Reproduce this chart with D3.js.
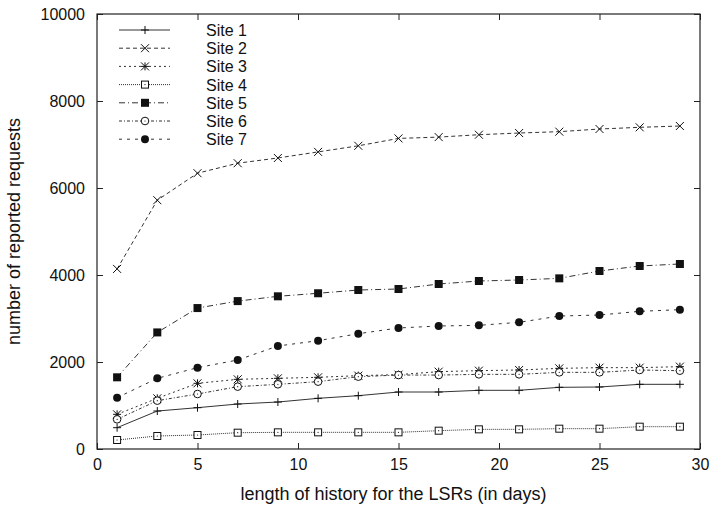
<!DOCTYPE html>
<html>
<head>
<meta charset="utf-8">
<script src="https://cdn.jsdelivr.net/npm/d3@7"></script>
<style>
  body { margin: 0; background: #fff; }
  text { font-family: "Liberation Sans", Arial, sans-serif; fill: #111; }
</style>
</head>
<body>
<svg id="chart" width="714" height="506"></svg>
<script>
// history length in days
const days = [1, 3, 5, 7, 9, 11, 13, 15, 17, 19, 21, 23, 25, 27, 29];

const site1 = [490, 873, 950, 1034, 1080, 1165, 1226, 1310, 1310, 1349, 1349, 1418, 1425, 1487, 1487];
const site2 = [4140, 5720, 6340, 6570, 6690, 6830, 6970, 7140, 7170, 7225, 7264, 7295, 7356, 7395, 7425];
const site3 = [797, 1165, 1510, 1602, 1625, 1648, 1686, 1709, 1778, 1801, 1816, 1854, 1870, 1870, 1893];
const site4 = [207, 299, 322, 375, 383, 383, 383, 383, 421, 452, 452, 467, 467, 513, 513];
const site5 = [1648, 2680, 3240, 3400, 3510, 3580, 3655, 3678, 3793, 3862, 3885, 3923, 4092, 4207, 4253];
const site6 = [682, 1111, 1264, 1433, 1487, 1548, 1663, 1700, 1700, 1716, 1716, 1762, 1762, 1816, 1800];
const site7 = [1180, 1625, 1870, 2046, 2368, 2490, 2651, 2782, 2828, 2843, 2912, 3057, 3080, 3165, 3203];

const siteNames = ["Site 1", "Site 2", "Site 3", "Site 4", "Site 5", "Site 6", "Site 7"];
const xTicks = [0, 5, 10, 15, 20, 25, 30];
const yTicks = [0, 2000, 4000, 6000, 8000, 10000];

const series = [
    { name: siteNames[0], values: site1, dash: null, marker: "plus" },
    { name: siteNames[1], values: site2, dash: "4,3", marker: "cross" },
    { name: siteNames[2], values: site3, dash: "2,3", marker: "star" },
    { name: siteNames[3], values: site4, dash: "1,1", marker: "square" },
    { name: siteNames[4], values: site5, dash: "6,3,1,3", marker: "fsquare" },
    { name: siteNames[5], values: site6, dash: "3,2,1,2", marker: "circle" },
    { name: siteNames[6], values: site7, dash: "3,5", marker: "fcircle" }
];

const svg = d3.select("#chart");
const margin = { left: 97, right: 14, top: 14, bottom: 57 };
const width = 714 - margin.left - margin.right;
const height = 506 - margin.top - margin.bottom;
const fontSize = "16px";
const labelSize = "18px";

const g = svg.append("g").attr("transform", `translate(${margin.left},${margin.top})`);

const x = d3.scaleLinear().domain([0, 30]).range([0, width]);
const y = d3.scaleLinear().domain([0, 10000]).range([height, 0]);

// axes with inward ticks, gnuplot style (mirrored)
const tickLen = 6;
g.append("g")
    .attr("transform", `translate(0,${height})`)
    .call(d3.axisBottom(x).tickValues(xTicks).tickFormat(d3.format("d"))
        .tickSizeInner(-tickLen).tickSizeOuter(0).tickPadding(10))
    .call(a => a.select(".domain").remove())
    .selectAll("text").style("font-size", fontSize);
g.append("g")
    .call(d3.axisLeft(y).tickValues(yTicks).tickFormat(d3.format("d"))
        .tickSizeInner(-tickLen).tickSizeOuter(0).tickPadding(12))
    .call(a => a.select(".domain").remove())
    .selectAll("text").style("font-size", fontSize);
g.append("g")
    .call(d3.axisTop(x).tickValues(xTicks).tickSizeInner(-tickLen).tickSizeOuter(0).tickFormat(""))
    .call(a => a.select(".domain").remove());
g.append("g")
    .attr("transform", `translate(${width},0)`)
    .call(d3.axisRight(y).tickValues(yTicks).tickSizeInner(-tickLen).tickSizeOuter(0).tickFormat(""))
    .call(a => a.select(".domain").remove());

g.selectAll(".tick line").attr("stroke", "#222");

g.append("rect")
    .attr("width", width).attr("height", height)
    .attr("fill", "none").attr("stroke", "#222").attr("stroke-width", 1.2);

// axis labels
svg.append("text")
    .attr("x", margin.left + width / 2 - 5).attr("y", 500)
    .attr("text-anchor", "middle").style("font-size", labelSize)
    .text("length of history for the LSRs (in days)");
svg.append("text")
    .attr("transform", `translate(20,${margin.top + height / 2}) rotate(-90)`)
    .attr("text-anchor", "middle").style("font-size", labelSize)
    .text("number of reported requests");

function drawMarker(sel, type) {
    const s = 4;
    if (type === "plus") {
        sel.append("path").attr("d", `M${-s},0H${s}M0,${-s}V${s}`).attr("stroke", "#111").attr("fill", "none");
    } else if (type === "cross") {
        sel.append("path").attr("d", `M${-s},${-s}L${s},${s}M${-s},${s}L${s},${-s}`).attr("stroke", "#111").attr("fill", "none");
    } else if (type === "star") {
        sel.append("path").attr("d", `M${-s},${-s}L${s},${s}M${-s},${s}L${s},${-s}M0,${-s}V${s}M${-s},0H${s}`).attr("stroke", "#111").attr("fill", "none");
    } else if (type === "square") {
        sel.append("rect").attr("x", -3.5).attr("y", -3.5).attr("width", 7).attr("height", 7)
            .attr("fill", "#fff").attr("stroke", "#111");
        sel.append("circle").attr("r", 0.6).attr("fill", "#111");
    } else if (type === "fsquare") {
        sel.append("rect").attr("x", -4).attr("y", -4).attr("width", 8).attr("height", 8).attr("fill", "#111");
    } else if (type === "circle") {
        sel.append("circle").attr("r", 3.8).attr("fill", "#fff").attr("stroke", "#111");
        sel.append("circle").attr("r", 0.6).attr("fill", "#111");
    } else if (type === "fcircle") {
        sel.append("circle").attr("r", 4).attr("fill", "#111");
    }
}

const line = d3.line().x((d, i) => x(days[i])).y(d => y(d));

series.forEach(s => {
    g.append("path")
        .datum(s.values)
        .attr("d", line)
        .attr("fill", "none")
        .attr("stroke", "#333")
        .attr("stroke-width", 1)
        .attr("stroke-dasharray", s.dash);
    g.selectAll(null)
        .data(s.values)
        .enter().append("g")
        .attr("transform", (d, i) => `translate(${x(days[i])},${y(d)})`)
        .each(function () { drawMarker(d3.select(this), s.marker); });
});

// legend
const legend = svg.append("g").attr("transform", "translate(119,30)");
series.forEach((s, i) => {
    const row = legend.append("g").attr("transform", `translate(0,${i * 18.2})`);
    row.append("line")
        .attr("x1", 0).attr("x2", 51)
        .attr("stroke", "#333").attr("stroke-dasharray", s.dash);
    const m = row.append("g").attr("transform", "translate(26,0)");
    drawMarker(m, s.marker);
    row.append("text")
        .attr("x", 87).attr("y", 6)
        .style("font-size", fontSize)
        .text(s.name);
});
</script>
</body>
</html>
